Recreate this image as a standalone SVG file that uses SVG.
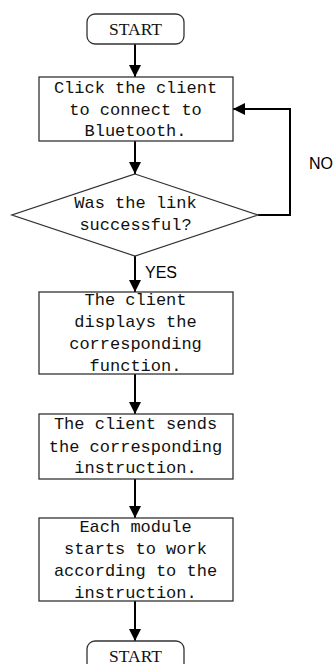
<svg xmlns="http://www.w3.org/2000/svg" width="335" height="664" viewBox="0 0 335 664">
<defs>
<marker id="ah" viewBox="0 0 12 12" refX="12" refY="6" markerWidth="12" markerHeight="12" markerUnits="userSpaceOnUse" orient="auto">
<path d="M0,0 L12,6 L0,12 Z" fill="#000"/>
</marker>
<style>
.box{fill:#fff;stroke:#333;stroke-width:1.3}
.t{font-family:"Liberation Mono","Courier New",monospace;font-size:17px;fill:#111;text-anchor:middle;dominant-baseline:central}
.s{font-family:"Liberation Serif","Times New Roman",serif;font-size:17.5px;fill:#111;text-anchor:middle;dominant-baseline:central}
.l{font-family:"Liberation Sans",Arial,sans-serif;font-size:16px;fill:#000;dominant-baseline:central}
.c{fill:none;stroke:#000;stroke-width:2}
</style>
</defs>
<g id="connectors">
<line class="c" x1="135" y1="44" x2="135" y2="77" marker-end="url(#ah)"/>
<line class="c" x1="135" y1="141" x2="135" y2="174" marker-end="url(#ah)"/>
<polyline class="c" points="258,215 290,215 290,109 233,109" marker-end="url(#ah)"/>
<line class="c" x1="135" y1="256" x2="135" y2="292" marker-end="url(#ah)"/>
<line class="c" x1="135" y1="374" x2="135" y2="414" marker-end="url(#ah)"/>
<line class="c" x1="135" y1="479" x2="135" y2="518" marker-end="url(#ah)"/>
<line class="c" x1="135" y1="601" x2="135" y2="641" marker-end="url(#ah)"/>
<text class="l" x="309" y="163">NO</text>
<text class="l" x="145" y="272">YES</text>
</g>
<g id="start1">
<rect class="box" x="87" y="14" width="97" height="30" rx="8"/>
<text class="s" x="135.5" y="29">START</text>
</g>
<g id="connect">
<rect class="box" x="39" y="77" width="194" height="64"/>
<text class="t" x="135.5" y="88">Click the client</text>
<text class="t" x="135.5" y="110">to connect to</text>
<text class="t" x="135.5" y="131">Bluetooth.</text>
</g>
<g id="decision">
<polygon class="box" points="135,174 258,215 135,256 12,215"/>
<text class="t" x="135.5" y="203">Was the link</text>
<text class="t" x="135.5" y="225">successful?</text>
</g>
<g id="display">
<rect class="box" x="39" y="292" width="194" height="82"/>
<text class="t" x="135.5" y="300">The client</text>
<text class="t" x="135.5" y="322">displays the</text>
<text class="t" x="135.5" y="344">corresponding</text>
<text class="t" x="135.5" y="366">function.</text>
</g>
<g id="sends">
<rect class="box" x="39" y="414" width="194" height="65"/>
<text class="t" x="135.5" y="424">The client sends</text>
<text class="t" x="135.5" y="447">the corresponding</text>
<text class="t" x="135.5" y="468">instruction.</text>
</g>
<g id="work">
<rect class="box" x="39" y="518" width="194" height="83"/>
<text class="t" x="135.5" y="527">Each module</text>
<text class="t" x="135.5" y="549">starts to work</text>
<text class="t" x="135.5" y="571">according to the</text>
<text class="t" x="135.5" y="593">instruction.</text>
</g>
<g id="start2">
<rect class="box" x="87" y="641" width="97" height="30" rx="8"/>
<text class="s" x="135.5" y="656">START</text>
</g>
</svg>
